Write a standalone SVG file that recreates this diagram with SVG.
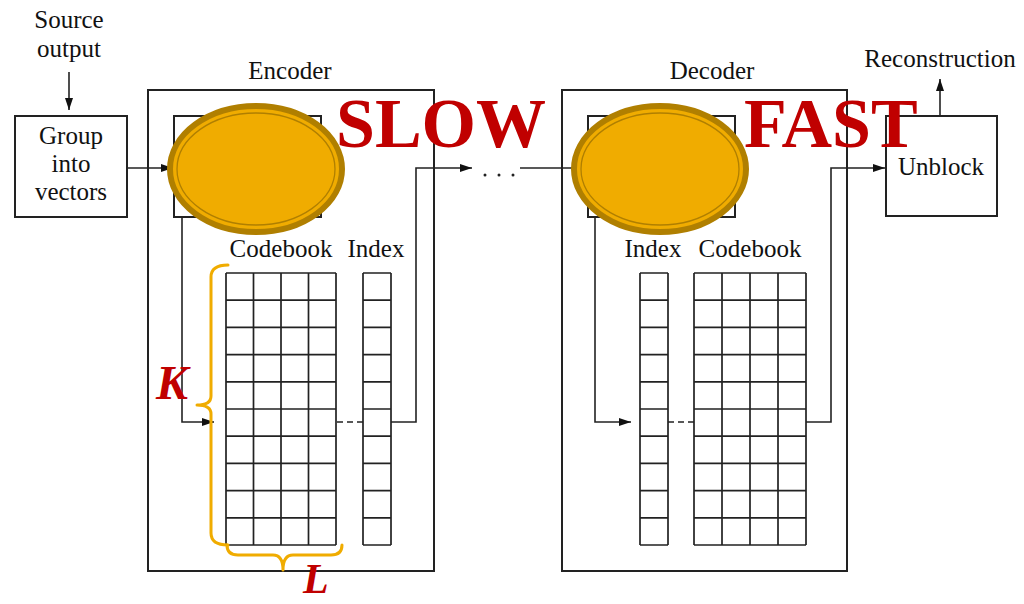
<svg xmlns="http://www.w3.org/2000/svg" width="1024" height="604" viewBox="0 0 1024 604">
<style>
.t{font-family:"Liberation Serif","Times New Roman",serif;font-size:25px;fill:#111;text-anchor:middle}
.box{fill:none;stroke:#222;stroke-width:2}
.ln{fill:none;stroke:#222;stroke-width:1.6}
.grid{fill:none;stroke:#222;stroke-width:1.7}
.dash{fill:none;stroke:#222;stroke-width:1.6;stroke-dasharray:6 4}
.dot{fill:#222}
.big{font-family:"Liberation Serif","Times New Roman",serif;font-weight:bold;font-size:70px;fill:#C00000}
.var{font-family:"Liberation Serif","Times New Roman",serif;font-weight:bold;font-style:italic;fill:#C00000}
.brace{fill:none;stroke:#F0AC00;stroke-width:3;stroke-linejoin:round;stroke-linecap:round}
.blob{fill:#F0AC00;stroke:#B07F00;stroke-width:6}
.blobin{fill:none;stroke:#B07F00;stroke-width:1.3}
</style>
<defs>
<marker id="ar" viewBox="0 0 12 8" refX="12" refY="4" markerWidth="12" markerHeight="8" markerUnits="userSpaceOnUse" orient="auto">
<path d="M0,0 L12,4 L0,8 Z" fill="#111"/>
</marker>
</defs>
<rect width="1024" height="604" fill="#fff"/>

<g id="connectors">
<path class="ln" d="M69,72 V110" marker-end="url(#ar)"/>
<path class="ln" d="M127,168 H173" marker-end="url(#ar)"/>
<path class="ln" d="M182,217 V422 H214" marker-end="url(#ar)"/>
<path class="dash" d="M337,422 H363"/>
<path class="ln" d="M391,422 H416 V168 H472" marker-end="url(#ar)"/>
<circle class="dot" cx="485" cy="175" r="1.5"/>
<circle class="dot" cx="499" cy="175" r="1.5"/>
<circle class="dot" cx="513" cy="175" r="1.5"/>
<path class="ln" d="M520,168 H587" marker-end="url(#ar)"/>
<path class="ln" d="M595,217 V422 H631" marker-end="url(#ar)"/>
<path class="dash" d="M668,422 H694"/>
<path class="ln" d="M806,422 H831 V168 H885" marker-end="url(#ar)"/>
<path class="ln" d="M940,116 V79" marker-end="url(#ar)"/>
</g>

<g id="source">
<text class="t" x="69" y="28">Source</text>
<text class="t" x="69" y="57">output</text>
</g>

<g id="group">
<rect class="box" x="15" y="116" width="112" height="101"/>
<text class="t" x="71" y="144">Group</text>
<text class="t" x="71" y="172">into</text>
<text class="t" x="71" y="200">vectors</text>
</g>

<g id="encoder">
<text class="t" x="290" y="79">Encoder</text>
<rect class="box" x="148" y="90" width="286" height="481"/>
<rect class="box" x="174" y="116" width="147" height="101"/>
<text class="t" x="281" y="257">Codebook</text>
<text class="t" x="376" y="257">Index</text>
<path class="grid" d="M226,273 H336 M226,300.2 H336 M226,327.4 H336 M226,354.6 H336 M226,381.8 H336 M226,409 H336 M226,436.2 H336 M226,463.4 H336 M226,490.6 H336 M226,517.8 H336 M226,545 H336 M226,273 V545 M253.5,273 V545 M281,273 V545 M308.5,273 V545 M336,273 V545"/>
<path class="grid" d="M363,273 H391 M363,300.2 H391 M363,327.4 H391 M363,354.6 H391 M363,381.8 H391 M363,409 H391 M363,436.2 H391 M363,463.4 H391 M363,490.6 H391 M363,517.8 H391 M363,545 H391 M363,273 V545 M391,273 V545"/>
</g>

<g id="decoder">
<text class="t" x="712" y="79">Decoder</text>
<rect class="box" x="562" y="90" width="285" height="481"/>
<rect class="box" x="588" y="116" width="147" height="101"/>
<text class="t" x="653" y="257">Index</text>
<text class="t" x="750" y="257">Codebook</text>
<path class="grid" d="M640,273 H668 M640,300.2 H668 M640,327.4 H668 M640,354.6 H668 M640,381.8 H668 M640,409 H668 M640,436.2 H668 M640,463.4 H668 M640,490.6 H668 M640,517.8 H668 M640,545 H668 M640,273 V545 M668,273 V545"/>
<path class="grid" d="M694,273 H806 M694,300.2 H806 M694,327.4 H806 M694,354.6 H806 M694,381.8 H806 M694,409 H806 M694,436.2 H806 M694,463.4 H806 M694,490.6 H806 M694,517.8 H806 M694,545 H806 M694,273 V545 M722,273 V545 M750,273 V545 M778,273 V545 M806,273 V545"/>
</g>

<g id="unblock">
<rect class="box" x="886" y="116" width="111" height="100"/>
<text class="t" x="941" y="175">Unblock</text>
<text class="t" x="940" y="67">Reconstruction</text>
</g>

<g id="slow-blob">
<ellipse class="blob" cx="256" cy="169" rx="86" ry="63"/>
<ellipse class="blobin" cx="256" cy="169" rx="79" ry="56"/>
</g>
<g id="fast-blob">
<ellipse class="blob" cx="660" cy="169" rx="86" ry="63"/>
<ellipse class="blobin" cx="660" cy="169" rx="79" ry="56"/>
</g>

<g id="labels">
<text class="big" x="336" y="147">SLOW</text>
<text class="big" x="744" y="147">FAST</text>
</g>

<g id="brace-K">
<path class="brace" d="M228,265 Q211,265 211,277 V396 Q211,405 197,405 Q211,405 211,414 V533 Q211,545 228,545"/>
<text class="var" x="156" y="399" font-size="48">K</text>
</g>
<g id="brace-L">
<path class="brace" d="M227,545 Q227,555 238,555 H273 Q283,555 283,570 Q283,555 293,555 H331 Q342,555 342,545"/>
<text class="var" x="303" y="593" font-size="42">L</text>
</g>
</svg>
